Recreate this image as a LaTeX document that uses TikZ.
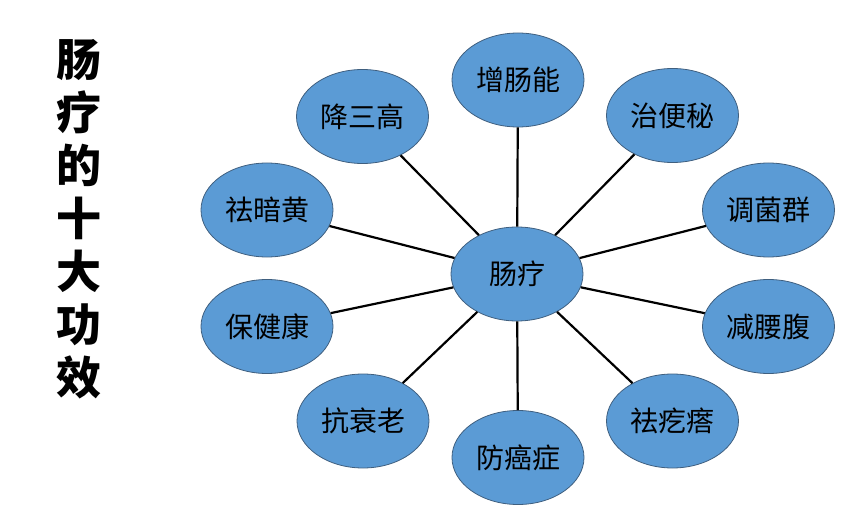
\documentclass[tikz,border=0pt]{standalone}
\usepackage{fontspec}
\setmainfont{Noto Sans CJK SC}
\newfontfamily\cjk{Noto Sans CJK SC}
\usetikzlibrary{shapes.geometric}
\definecolor{bubblefill}{HTML}{5B9BD5}
\definecolor{bubbleedge}{HTML}{3F5F7F}
\tikzset{
  bubble/.style={ellipse, draw=bubbleedge, line width=0.8pt, fill=bubblefill,
    minimum width=132pt, minimum height=94pt, inner sep=0pt,
    font=\cjk\fontsize{28}{30}\selectfont, text=black},
  spoke/.style={draw=black, line width=2.2pt},
  titletext/.style={font=\cjk\bfseries\fontsize{45}{53}\selectfont, align=center, inner sep=0pt}
}
\begin{document}
\begin{tikzpicture}[x=1pt,y=-1pt]
\useasboundingbox (0,0) rectangle (860,524);
\node[titletext] (title) at (79,219) {肠\\疗\\的\\十\\大\\功\\效};
\node[bubble] (c) at (517,274) {肠疗};
\node[bubble] (n1) at (518,80) {增肠能};
\node[bubble] (n2) at (672.5,115.5) {治便秘};
\node[bubble] (n3) at (768.5,210) {调菌群};
\node[bubble] (n4) at (768.5,326.5) {减腰腹};
\node[bubble] (n5) at (672.5,421) {祛疙瘩};
\node[bubble] (n6) at (518,457.5) {防癌症};
\node[bubble] (n7) at (363,421) {抗衰老};
\node[bubble] (n8) at (267,326.5) {保健康};
\node[bubble] (n9) at (267,210) {祛暗黄};
\node[bubble] (n10) at (362.5,116.5) {降三高};
\foreach \i in {1,...,10} {\draw[spoke] (c) -- (n\i);}
\end{tikzpicture}
\end{document}
